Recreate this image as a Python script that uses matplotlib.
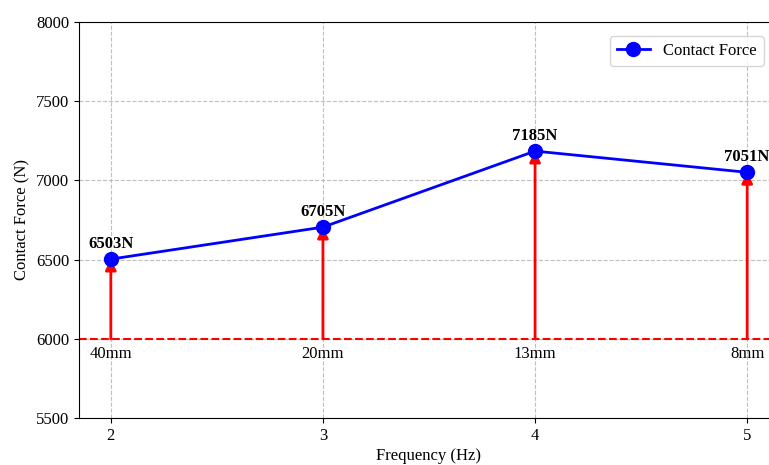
import matplotlib
matplotlib.use("Agg")
import matplotlib.pyplot as plt

frequency = [2, 3, 4, 5]
contact_force = [6503, 6705, 7185, 7051]
size_labels = ["40mm", "20mm", "13mm", "8mm"]
baseline = 6000

plt.rcParams['font.family'] = ['Liberation Serif', 'DejaVu Serif']
FS = 12
fig = plt.figure(figsize=(7.69, 4.65), dpi=100)
ax = fig.add_axes([79/769, 1 - 418/465, (779 - 79)/769, (418 - 22)/465])

ax.plot(frequency, contact_force, color='blue', linewidth=2, marker='o',
        markersize=10, label='Contact Force', zorder=4)
ax.axhline(baseline, color='red', linestyle='--', linewidth=1.5, zorder=2)

for x, y, lab in zip(frequency, contact_force, size_labels):
    ax.annotate('', xy=(x, y), xytext=(x, baseline),
                arrowprops=dict(arrowstyle='-|>', color='red', lw=2,
                                mutation_scale=16, shrinkA=0, shrinkB=0),
                zorder=3)
    ax.annotate(f'{y}N', xy=(x, y), xytext=(0, 5), textcoords='offset points',
                ha='center', va='bottom', fontsize=FS, fontweight='bold')
    ax.annotate(lab, xy=(x, baseline), xytext=(0, -5), textcoords='offset points',
                ha='center', va='top', fontsize=FS)

ax.set_xlim(1.85, 5.15)
ax.set_ylim(5500, 8000)
ax.set_xticks(frequency)
ax.set_yticks([5500, 6000, 6500, 7000, 7500, 8000])
ax.tick_params(labelsize=FS)
ax.set_xlabel('Frequency (Hz)', fontsize=FS, labelpad=3)
ax.set_ylabel('Contact Force (N)', fontsize=FS)
ax.grid(True, linestyle='--', color='#b0b0b0', linewidth=0.8, alpha=0.8)
ax.legend(loc='upper right', fontsize=FS, bbox_to_anchor=(0.99, 0.985))

fig.savefig('out.png', dpi=100)
